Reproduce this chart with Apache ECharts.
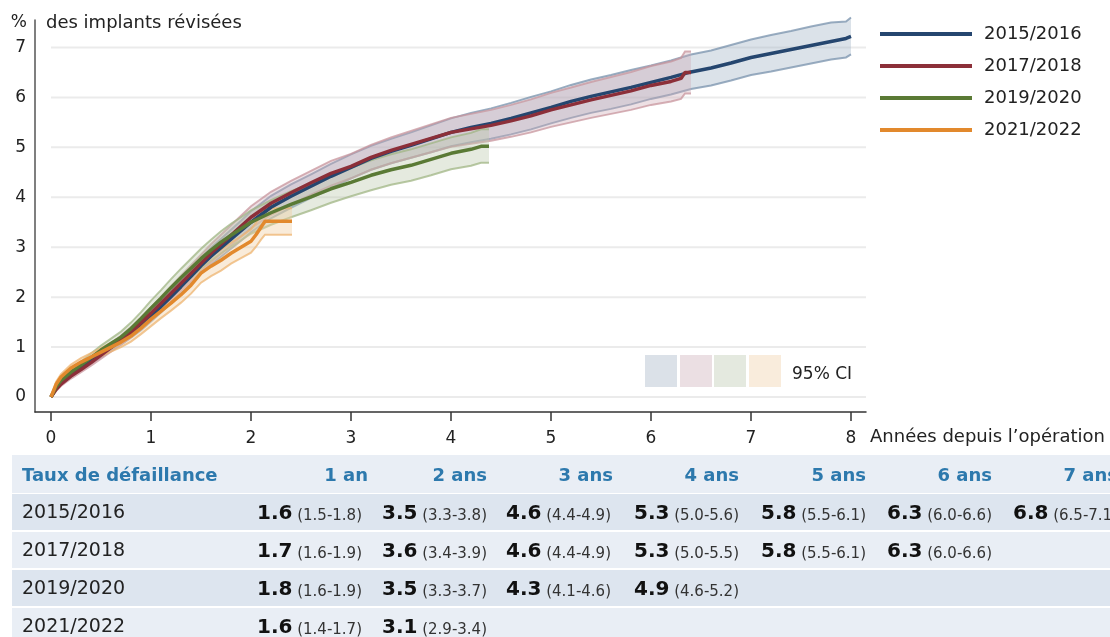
<!DOCTYPE html>
<html>
<head>
<meta charset="utf-8">
<script src="https://cdn.jsdelivr.net/npm/echarts@6/dist/echarts.min.js"></script>
<style>
  html, body { margin: 0; padding: 0; background: #ffffff; }
  #chart { width: 1110px; height: 637px; }
</style>
</head>
<body>
<div id="chart"></div>
<script>
// Cumulative revision rate (%) by year of surgery, with 95% confidence bands.
const FONT = '"DejaVu Sans", "Noto Sans", sans-serif';

const cohortNames = ['2015/2016', '2017/2018', '2019/2020', '2021/2022'];

// 2015/2016
const t1516 = [0, 0.05, 0.1, 0.2, 0.3, 0.4, 0.5, 0.6, 0.7, 0.8, 0.9, 1.0, 1.1, 1.2, 1.3, 1.4, 1.5, 1.6, 1.7, 1.8, 1.9, 2.0, 2.2, 2.4, 2.6, 2.8, 3.0, 3.2, 3.4, 3.6, 3.8, 4.0, 4.2, 4.4, 4.6, 4.8, 5.0, 5.2, 5.4, 5.6, 5.8, 6.0, 6.2, 6.4, 6.6, 6.8, 7.0, 7.2, 7.4, 7.6, 7.8, 7.95, 8.0];
const est1516 = [0, 0.18, 0.3, 0.47, 0.6, 0.74, 0.87, 1.0, 1.13, 1.28, 1.44, 1.62, 1.81, 2.01, 2.21, 2.42, 2.63, 2.82, 2.99, 3.16, 3.33, 3.5, 3.8, 4.02, 4.22, 4.42, 4.6, 4.78, 4.92, 5.04, 5.17, 5.3, 5.4, 5.48, 5.58, 5.69, 5.8, 5.92, 6.02, 6.11, 6.2, 6.3, 6.4, 6.51, 6.59, 6.69, 6.8, 6.88, 6.96, 7.04, 7.12, 7.18, 7.22];
const lo1516 = [0, 0.15, 0.26, 0.42, 0.55, 0.68, 0.8, 0.93, 1.05, 1.19, 1.34, 1.51, 1.69, 1.88, 2.07, 2.27, 2.47, 2.65, 2.81, 2.97, 3.13, 3.3, 3.58, 3.79, 3.99, 4.18, 4.38, 4.55, 4.68, 4.79, 4.9, 5.02, 5.1, 5.17, 5.26, 5.36, 5.48, 5.59, 5.69, 5.77, 5.86, 5.97, 6.06, 6.17, 6.24, 6.34, 6.45, 6.52, 6.6, 6.68, 6.76, 6.8, 6.86];
const hi1516 = [0, 0.21, 0.34, 0.52, 0.66, 0.8, 0.94, 1.08, 1.21, 1.37, 1.54, 1.74, 1.94, 2.15, 2.36, 2.58, 2.79, 2.99, 3.17, 3.35, 3.53, 3.72, 4.03, 4.26, 4.46, 4.67, 4.86, 5.03, 5.17, 5.3, 5.44, 5.58, 5.69, 5.78, 5.89, 6.01, 6.12, 6.25, 6.36, 6.45, 6.55, 6.64, 6.74, 6.86, 6.94, 7.05, 7.16, 7.25, 7.33, 7.42, 7.5, 7.52, 7.6];

// 2017/2018
const t1718 = [0, 0.05, 0.1, 0.2, 0.3, 0.4, 0.5, 0.6, 0.7, 0.8, 0.9, 1.0, 1.1, 1.2, 1.3, 1.4, 1.5, 1.6, 1.7, 1.8, 1.9, 2.0, 2.2, 2.4, 2.6, 2.8, 3.0, 3.2, 3.4, 3.6, 3.8, 4.0, 4.2, 4.4, 4.6, 4.8, 5.0, 5.2, 5.4, 5.6, 5.8, 6.0, 6.2, 6.3, 6.34, 6.4];
const est1718 = [0, 0.15, 0.26, 0.42, 0.55, 0.69, 0.84, 0.99, 1.14, 1.3, 1.49, 1.68, 1.88, 2.08, 2.28, 2.48, 2.68, 2.88, 3.06, 3.24, 3.42, 3.6, 3.88, 4.09, 4.29, 4.48, 4.62, 4.8, 4.94, 5.06, 5.18, 5.3, 5.37, 5.44, 5.53, 5.63, 5.75, 5.85, 5.95, 6.04, 6.13, 6.24, 6.32, 6.38, 6.5, 6.5];
const lo1718 = [0, 0.12, 0.22, 0.37, 0.5, 0.63, 0.77, 0.91, 1.05, 1.2, 1.38, 1.56, 1.75, 1.94, 2.13, 2.32, 2.51, 2.7, 2.87, 3.04, 3.21, 3.38, 3.65, 3.85, 4.05, 4.23, 4.38, 4.55, 4.68, 4.79, 4.9, 5.01, 5.07, 5.13, 5.21, 5.3, 5.41, 5.5, 5.59, 5.67, 5.75, 5.85, 5.92, 5.97, 6.08, 6.08];
const hi1718 = [0, 0.18, 0.3, 0.47, 0.61, 0.75, 0.91, 1.07, 1.23, 1.4, 1.6, 1.8, 2.01, 2.22, 2.43, 2.64, 2.85, 3.06, 3.25, 3.44, 3.63, 3.82, 4.11, 4.33, 4.53, 4.73, 4.87, 5.05, 5.2, 5.33, 5.46, 5.59, 5.67, 5.75, 5.85, 5.96, 6.09, 6.2, 6.31, 6.41, 6.51, 6.63, 6.72, 6.79, 6.92, 6.92];

// 2019/2020
const t1920 = [0, 0.05, 0.1, 0.2, 0.3, 0.4, 0.5, 0.6, 0.7, 0.8, 0.9, 1.0, 1.1, 1.2, 1.3, 1.4, 1.5, 1.6, 1.7, 1.8, 1.9, 2.0, 2.2, 2.4, 2.6, 2.8, 3.0, 3.2, 3.4, 3.6, 3.8, 4.0, 4.2, 4.3, 4.38];
const est1920 = [0, 0.2, 0.33, 0.5, 0.64, 0.79, 0.94, 1.07, 1.2, 1.37, 1.57, 1.78, 1.98, 2.19, 2.39, 2.58, 2.77, 2.94, 3.1, 3.24, 3.37, 3.5, 3.69, 3.86, 4.01, 4.17, 4.3, 4.44, 4.55, 4.64, 4.76, 4.88, 4.96, 5.02, 5.02];
const lo1920 = [0, 0.16, 0.28, 0.44, 0.57, 0.71, 0.85, 0.97, 1.09, 1.25, 1.43, 1.63, 1.82, 2.02, 2.21, 2.39, 2.57, 2.73, 2.88, 3.01, 3.14, 3.27, 3.45, 3.6, 3.74, 3.89, 4.02, 4.14, 4.25, 4.33, 4.44, 4.56, 4.63, 4.69, 4.69];
const hi1920 = [0, 0.24, 0.38, 0.56, 0.71, 0.87, 1.03, 1.17, 1.31, 1.49, 1.7, 1.93, 2.14, 2.36, 2.57, 2.77, 2.97, 3.15, 3.32, 3.47, 3.6, 3.74, 3.94, 4.12, 4.28, 4.45, 4.59, 4.74, 4.86, 4.96, 5.08, 5.2, 5.29, 5.36, 5.36];

// 2021/2022
const t2122 = [0, 0.05, 0.1, 0.2, 0.3, 0.4, 0.5, 0.6, 0.7, 0.8, 0.9, 1.0, 1.1, 1.2, 1.3, 1.4, 1.5, 1.6, 1.7, 1.8, 1.9, 2.0, 2.05, 2.1, 2.14, 2.41];
const est2122 = [0, 0.25, 0.4, 0.58, 0.7, 0.8, 0.9, 1.0, 1.1, 1.22, 1.38, 1.56, 1.72, 1.88, 2.05, 2.24, 2.48, 2.62, 2.74, 2.88, 3.0, 3.12, 3.25, 3.4, 3.52, 3.52];
const lo2122 = [0, 0.2, 0.34, 0.51, 0.62, 0.72, 0.82, 0.91, 1.0, 1.11, 1.26, 1.42, 1.58, 1.73, 1.89, 2.07, 2.29, 2.42, 2.53, 2.67, 2.78, 2.89, 3.01, 3.15, 3.25, 3.25];
const hi2122 = [0, 0.3, 0.46, 0.65, 0.78, 0.88, 0.98, 1.09, 1.2, 1.33, 1.5, 1.69, 1.87, 2.03, 2.21, 2.41, 2.67, 2.82, 2.95, 3.09, 3.22, 3.36, 3.49, 3.65, 3.78, 3.78];

// Axis ticks
const xTicks = [0, 1, 2, 3, 4, 5, 6, 7, 8];
const yTicks = [0, 1, 2, 3, 4, 5, 6, 7];

// Table: failure rate (95% CI) at n years
const tableHeaders = ['1 an', '2 ans', '3 ans', '4 ans', '5 ans', '6 ans', '7 ans'];
const rate1516 = ['1.6', '3.5', '4.6', '5.3', '5.8', '6.3', '6.8'];
const ci1516 = ['1.5-1.8', '3.3-3.8', '4.4-4.9', '5.0-5.6', '5.5-6.1', '6.0-6.6', '6.5-7.1'];
const rate1718 = ['1.7', '3.6', '4.6', '5.3', '5.8', '6.3'];
const ci1718 = ['1.6-1.9', '3.4-3.9', '4.4-4.9', '5.0-5.5', '5.5-6.1', '6.0-6.6'];
const rate1920 = ['1.8', '3.5', '4.3', '4.9'];
const ci1920 = ['1.6-1.9', '3.3-3.7', '4.1-4.6', '4.6-5.2'];
const rate2122 = ['1.6', '3.1'];
const ci2122 = ['1.4-1.7', '2.9-3.4'];

const lineColors = ['#25466f', '#8c2f39', '#5a7a35', '#e2892d'];
const bandFills = ['rgba(160,180,198,0.38)', 'rgba(206,170,180,0.36)', 'rgba(186,200,170,0.38)', 'rgba(240,205,160,0.40)'];
const bandEdges = ['rgba(120,146,172,0.75)', 'rgba(200,150,158,0.75)', 'rgba(160,182,132,0.75)', 'rgba(238,180,112,0.75)'];
const ciSwatches = ['#dbe1e8', '#ebdfe3', '#e4e9df', '#f9ecdc'];

const cohorts = [
  { t: t1516, est: est1516, lo: lo1516, hi: hi1516, rate: rate1516, ci: ci1516 },
  { t: t1718, est: est1718, lo: lo1718, hi: hi1718, rate: rate1718, ci: ci1718 },
  { t: t1920, est: est1920, lo: lo1920, hi: hi1920, rate: rate1920, ci: ci1920 },
  { t: t2122, est: est2122, lo: lo2122, hi: hi2122, rate: rate2122, ci: ci2122 }
];

const X_MAX = 8.15;

// Horizontal grid lines, starting at year 0
const gridSeries = {
  type: 'custom',
  silent: true,
  z: 1,
  data: yTicks.map(v => [0, v]),
  renderItem: function (params, api) {
    const v = api.value(1);
    const a = api.coord([0, v]);
    const b = api.coord([X_MAX, v]);
    return {
      type: 'line',
      shape: { x1: a[0], y1: a[1], x2: b[0], y2: b[1] },
      style: { stroke: '#ebebeb', lineWidth: 2 }
    };
  }
};

function bandSeries(c, i) {
  return {
    type: 'custom',
    silent: true,
    z: 2,
    data: [[c.t[0], c.lo[0]]],
    renderItem: function (params, api) {
      const upper = c.t.map((x, k) => api.coord([x, c.hi[k]]));
      const lower = c.t.map((x, k) => api.coord([x, c.lo[k]]));
      return {
        type: 'group',
        children: [
          { type: 'polygon', shape: { points: upper.concat(lower.slice().reverse()) }, style: { fill: bandFills[i] } },
          { type: 'polyline', shape: { points: upper }, style: { stroke: bandEdges[i], lineWidth: 2, fill: null } },
          { type: 'polyline', shape: { points: lower }, style: { stroke: bandEdges[i], lineWidth: 2, fill: null } }
        ]
      };
    }
  };
}

function lineSeries(c, i) {
  return {
    name: cohortNames[i],
    type: 'line',
    z: 3 + i,
    color: lineColors[i],
    showSymbol: false,
    symbol: 'none',
    silent: true,
    lineStyle: { color: lineColors[i], width: 3.5 },
    itemStyle: { color: lineColors[i] },
    data: c.t.map((x, k) => [x, c.est[k]])
  };
}

// Table built from the arrays above
const COL_RIGHT = [368, 487, 613, 739, 866, 992, 1118];
const VAL_RIGHT = [362, 487, 611, 739, 866, 992, 1118];
const ROW_TOP = [455, 494, 532, 570, 608];
const ROW_H = [38, 36, 36, 36, 36];
const ROW_BG = ['#e9eef5', '#dde5ef', '#e9eef5', '#dde5ef', '#e9eef5'];
const HEAD_COLOR = '#2d79ad';

const tableEls = [];
ROW_TOP.forEach((y, r) => {
  tableEls.push({ type: 'rect', shape: { x: 12, y: y, width: 1110 - 12, height: ROW_H[r] }, style: { fill: ROW_BG[r] }, silent: true });
});
tableEls.push({
  type: 'text', x: 22, y: ROW_TOP[0] + ROW_H[0] / 2 + 2,
  style: { text: 'Taux de défaillance', font: 'bold 18px ' + FONT, fill: HEAD_COLOR, verticalAlign: 'middle' }
});
tableHeaders.forEach((h, j) => {
  tableEls.push({
    type: 'text', x: COL_RIGHT[j], y: ROW_TOP[0] + ROW_H[0] / 2 + 2,
    style: { text: h, font: 'bold 18px ' + FONT, fill: HEAD_COLOR, align: 'right', verticalAlign: 'middle' }
  });
});
cohorts.forEach((c, r) => {
  const cy = ROW_TOP[r + 1] + ROW_H[r + 1] / 2 + 1;
  tableEls.push({
    type: 'text', x: 22, y: cy,
    style: { text: cohortNames[r], font: '19px ' + FONT, fill: '#222', verticalAlign: 'middle' }
  });
  c.rate.forEach((v, j) => {
    tableEls.push({
      type: 'text', x: VAL_RIGHT[j], y: cy + 1,
      style: {
        text: '{b|' + v + '}{s| (' + c.ci[j] + ')}',
        align: 'right', verticalAlign: 'middle',
        rich: {
          b: { font: 'bold 20px ' + FONT, fill: '#111', verticalAlign: 'bottom' },
          s: { font: '15px ' + FONT, fill: '#333', verticalAlign: 'bottom' }
        }
      }
    });
  });
});

const chart = echarts.init(document.getElementById('chart'), null, { renderer: 'canvas' });

chart.setOption({
  animation: false,
  backgroundColor: '#ffffff',
  textStyle: { fontFamily: FONT },
  grid: { left: 35, right: 244, top: 20, bottom: 225, containLabel: false },
  xAxis: {
    type: 'value',
    min: -0.16,
    max: X_MAX,
    axisLine: { show: true, onZero: false, lineStyle: { color: '#333', width: 1.5 } },
    axisTick: { show: true, length: 9, customValues: xTicks, lineStyle: { color: '#333', width: 1.5 } },
    axisLabel: { customValues: xTicks, margin: 18, fontSize: 17, color: '#222', fontFamily: FONT },
    splitLine: { show: false }
  },
  yAxis: {
    type: 'value',
    min: -0.3,
    max: 7.55,
    axisLine: { show: true, onZero: false, lineStyle: { color: '#555', width: 1.5 } },
    axisTick: { show: false },
    axisLabel: { customValues: yTicks, margin: 9, fontSize: 17, color: '#222', fontFamily: FONT },
    splitLine: { show: false }
  },
  legend: {
    data: cohortNames,
    orient: 'vertical',
    left: 880,
    top: 24,
    icon: 'rect',
    itemWidth: 92,
    itemHeight: 4,
    itemGap: 12,
    padding: 0,
    selectedMode: false,
    textStyle: { fontSize: 18, color: '#222', fontFamily: FONT, lineHeight: 20, padding: [0, 0, 0, 7] }
  },
  graphic: [
    { type: 'text', x: 27, y: 23, style: { text: '%', font: '17px ' + FONT, fill: '#222', align: 'right', verticalAlign: 'middle' } },
    { type: 'text', x: 46, y: 23, style: { text: 'des implants révisées', font: '18px ' + FONT, fill: '#222', verticalAlign: 'middle' } },
    { type: 'text', x: 870, y: 437, style: { text: 'Années depuis l’opération', font: '18px ' + FONT, fill: '#222', verticalAlign: 'middle' } },
    { type: 'rect', shape: { x: 645, y: 355, width: 32, height: 32 }, style: { fill: ciSwatches[0] } },
    { type: 'rect', shape: { x: 680, y: 355, width: 32, height: 32 }, style: { fill: ciSwatches[1] } },
    { type: 'rect', shape: { x: 714, y: 355, width: 32, height: 32 }, style: { fill: ciSwatches[2] } },
    { type: 'rect', shape: { x: 749, y: 355, width: 32, height: 32 }, style: { fill: ciSwatches[3] } },
    { type: 'text', x: 792, y: 375, style: { text: '95% CI', font: '17px ' + FONT, fill: '#222', verticalAlign: 'middle' } },
    { type: 'group', children: tableEls }
  ],
  series: [gridSeries]
    .concat(cohorts.map(bandSeries))
    .concat(cohorts.map(lineSeries))
});
</script>
</body>
</html>
